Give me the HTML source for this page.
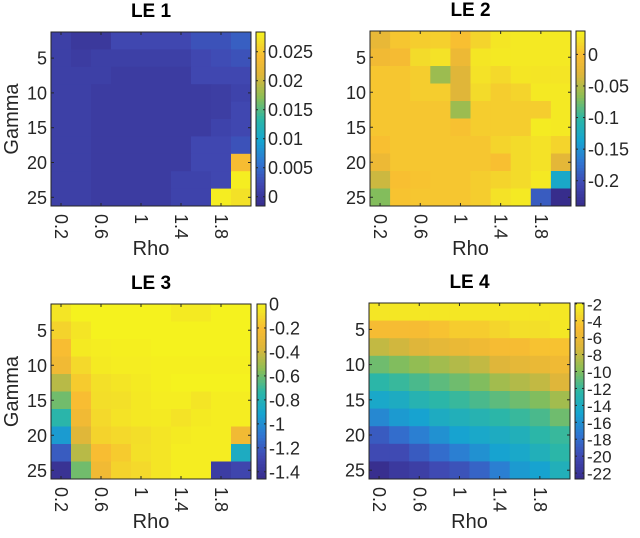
<!DOCTYPE html>
<html><head><meta charset="utf-8"><style>
html,body{margin:0;padding:0;background:#fff}
svg{display:block;font-family:"Liberation Sans",Arial,sans-serif}
</style></head><body>
<svg id="fig" width="640" height="538" viewBox="0 0 640 538"></svg>
<script>
const rhoCategories = [0.2,0.4,0.6,0.8,1.0,1.2,1.4,1.6,1.8,2.0];
const gammaCategories = [2.5,5,7.5,10,12.5,15,17.5,20,22.5,25];
const xTickLabels = ["0.2","0.6","1","1.4","1.8"];
const xTickValues = [0.2,0.6,1.0,1.4,1.8];
const yTickValues = [5,10,15,20,25];
const le1Values = [
[0.001,0,0,0.002,0.002,0.002,0.002,0.003,0.003,0.004],
[0.001,0.0005,0.001,0.001,0.001,0.001,0.001,0.002,0.0025,0.003],
[0.001,0.001,0.001,0.0005,0.0005,0.0005,0.0005,0.002,0.002,0.002],
[0.001,0.001,0.0005,0.0005,0.0005,0.0005,0.0005,0.0005,0.0007,0.0015],
[0.001,0.001,0.0005,0.0005,0.0005,0.0005,0.0005,0.0005,0.0007,0.002],
[0.001,0.001,0.0005,0.0005,0.0005,0.0005,0.0005,0.0005,0.0015,0.002],
[0.001,0.001,0.0005,0.0005,0.0005,0.0005,0.0005,0.002,0.002,0.003],
[0.001,0.001,0.0005,0.0005,0.0005,0.0005,0.0005,0.002,0.002,0.024],
[0.001,0.001,0.0005,0.0005,0.0005,0.0005,0.0015,0.0015,0.002,0.028],
[0.001,0.001,0.0005,0.0005,0.0005,0.0005,0.0015,0.0015,0.028,0.027]];
const le2Values = [
[-0.02,0.005,0.01,0.012,0.0,0.015,0.028,0.03,0.03,0.03],
[-0.01,-0.005,0.02,0.025,-0.015,0.028,0.03,0.03,0.03,0.03],
[0.005,0.005,0.01,-0.06,-0.03,0.025,0.018,0.028,0.027,0.027],
[0.005,0.005,0.01,0.01,-0.03,0.02,0.01,0.015,0.03,0.03],
[0.005,0.005,0.005,0.005,-0.06,0.01,0.01,0.01,0.01,0.03],
[0.005,0.005,0.005,0.005,0.002,0.01,0.01,0.01,0.032,0.03],
[0.0,0.005,0.005,0.005,0.005,0.005,0.015,0.02,0.025,0.015],
[-0.015,0.005,0.005,0.005,0.005,0.005,0.0,0.02,0.025,-0.025],
[-0.04,0.0,0.003,0.005,0.005,0.01,0.015,0.02,0.03,-0.13],
[-0.07,0.003,0.005,0.005,0.005,0.01,0.025,0.03,-0.19,-0.24]];
const le3Values = [
[-0.05,0,0,0,0,0,-0.03,-0.03,0,0],
[-0.12,-0.05,0,0,0,0,0,0,0,0],
[-0.2,-0.03,-0.02,-0.01,-0.01,0,0,0,0,0],
[-0.25,-0.1,-0.03,-0.02,-0.02,-0.01,-0.01,-0.01,-0.01,-0.01],
[-0.45,-0.15,-0.07,-0.05,-0.03,-0.01,0,0,0,0],
[-0.6,-0.2,-0.08,-0.07,-0.04,-0.02,-0.02,-0.05,-0.02,-0.02],
[-0.75,-0.25,-0.1,-0.06,-0.04,-0.03,-0.06,-0.03,-0.02,-0.02],
[-0.95,-0.35,-0.12,-0.1,-0.08,-0.05,-0.03,-0.02,-0.02,-0.25],
[-1.2,-0.45,-0.2,-0.15,-0.07,-0.05,-0.02,-0.02,-0.02,-0.85],
[-1.42,-0.6,-0.25,-0.12,-0.1,-0.05,-0.02,-0.02,-1.35,-1.3]];
const le4Values = [
[-2.6,-2.5,-2.5,-2.5,-2.5,-2.5,-2.6,-2.5,-2.5,-2.5],
[-5,-5,-5,-4.5,-4,-4,-3.5,-3,-3,-2.5],
[-8,-7.5,-7,-6.5,-6,-5.5,-5,-5,-4.5,-4.5],
[-10.5,-10,-9.5,-9,-8.5,-8,-7,-6.5,-6,-5.5],
[-12.5,-12,-11.5,-11,-10.5,-10,-9,-8.5,-8,-7],
[-14.5,-14,-13,-12.5,-12,-11.5,-11,-10.5,-10,-9],
[-16.5,-15.5,-15,-14,-13.5,-13,-12.5,-12,-11.5,-10.5],
[-19,-18,-17,-16,-15,-14.5,-14,-13.5,-12.5,-12],
[-20,-20,-19,-18,-17,-16,-15,-14.5,-13.5,-12.5],
[-22.5,-21.5,-21,-20,-19.5,-18.5,-17,-15.5,-15,-13.5]];
const le1Ticks = [0,0.005,0.01,0.015,0.02,0.025];
const le1TickLabels = ["0","0.005","0.01","0.015","0.02","0.025"];
const le2Ticks = [0,-0.05,-0.1,-0.15,-0.2];
const le2TickLabels = ["0","-0.05","-0.1","-0.15","-0.2"];
const le3Ticks = [0,-0.2,-0.4,-0.6,-0.8,-1,-1.2,-1.4];
const le3TickLabels = ["0","-0.2","-0.4","-0.6","-0.8","-1","-1.2","-1.4"];
const le4Ticks = [-2,-4,-6,-8,-10,-12,-14,-16,-18,-20,-22];
const le4TickLabels = ["-2","-4","-6","-8","-10","-12","-14","-16","-18","-20","-22"];

const NS="http://www.w3.org/2000/svg";
const svg=document.getElementById('fig');
function mk(tag,attrs,parent,txt){const e=document.createElementNS(NS,tag);for(const k in attrs)e.setAttribute(k,attrs[k]);if(txt!==undefined)e.textContent=txt;(parent||svg).appendChild(e);return e;}
const stops=[[0,55,45,140],[0.125,64,72,178],[0.25,48,118,210],[0.375,22,165,208],[0.5,45,183,165],[0.625,140,190,85],[0.75,222,182,58],[0.86,248,188,50],[0.94,243,220,42],[1,245,242,30]];
function parula(t){t=Math.max(0,Math.min(1,t));for(let i=1;i<stops.length;i++){if(t<=stops[i][0]){const a=stops[i-1],b=stops[i];const f=(t-a[0])/(b[0]-a[0]);return `rgb(${[1,2,3].map(k=>Math.round(a[k]+f*(b[k]-a[k]))).join(',')})`;}}return 'rgb(245,242,30)';}

function panel(o){
  const g=mk('g',{},svg);
  
  
  const pw=o.x1-o.x0, ph=o.y1-o.y0;
  const xs=v=>o.x0+(v-0.1)/2.0*pw;
  const ys=v=>o.y0+(v-1.25)/25*ph;
  const cw=pw/rhoCategories.length, chh=ph/gammaCategories.length;
  o.data.forEach((row,i)=>row.forEach((v,j)=>{
    const r=mk('rect',{x:xs(rhoCategories[j])-cw/2,y:ys(gammaCategories[i])-chh/2,width:cw+0.4,height:chh+0.4,fill:parula((v-o.vmin)/(o.vmax-o.vmin))},g);
    
    
  }));
  mk('rect',{x:o.x0,y:o.y0,width:pw,height:ph,fill:'none',stroke:'#262626','stroke-width':1},g);
  xTickValues.forEach((v,k)=>{const x=xs(v);
    mk('line',{x1:x,x2:x,y1:o.y1,y2:o.y1-3,stroke:'#262626'},g);
    mk('line',{x1:x,x2:x,y1:o.y0,y2:o.y0+3,stroke:'#262626'},g);
    const t=mk('text',{x:0,y:0,transform:`translate(${x-6},${o.y1+8}) rotate(90)`,'font-size':18,fill:'#262626'},g,xTickLabels[k]);
    
    
  });
  yTickValues.forEach(v=>{const y=ys(v);
    mk('line',{x1:o.x0,x2:o.x0+3,y1:y,y2:y,stroke:'#262626'},g);
    mk('line',{x1:o.x1,x2:o.x1-3,y1:y,y2:y,stroke:'#262626'},g);
    const t=mk('text',{x:o.x0-4,y:y+6.5,'text-anchor':'end','font-size':18,fill:'#262626'},g,String(v));
    
    
  });
  const ti=mk('text',{x:(o.x0+o.x1)/2,y:o.y0-15,'text-anchor':'middle','font-size':19,'font-weight':'bold',fill:'#000'},g,o.title);
  
  
  const xl=mk('text',{x:(o.x0+o.x1)/2,y:o.y1+49,'text-anchor':'middle','font-size':20,fill:'#262626'},g,'Rho');
  
  
  if(o.gamma){const yl=mk('text',{x:0,y:0,transform:`translate(${o.x0-33},${(o.y0+o.y1)/2}) rotate(-90)`,'text-anchor':'middle','font-size':20,fill:'#262626'},g,'Gamma');
    
    }
  const cb=mk('g',{},g);
  
  
  const N=60;
  for(let k=0;k<N;k++){mk('rect',{x:o.cx,y:o.y0+k*ph/N,width:9,height:ph/N+0.5,fill:parula(1-(k+0.5)/N)},cb);}
  mk('rect',{x:o.cx,y:o.y0,width:9,height:ph,fill:'none',stroke:'#262626'},cb);
  const cs=v=>o.y0+(o.vmax-v)/(o.vmax-o.vmin)*ph;
  o.ticks.forEach((v,k)=>{const y=cs(v);
    mk('line',{x1:o.cx,x2:o.cx+2,y1:y,y2:y,stroke:'#262626'},cb);
    mk('line',{x1:o.cx+9,x2:o.cx+7,y1:y,y2:y,stroke:'#262626'},cb);
    const t=mk('text',{x:o.cx+12,y:y+6.5,'font-size':o.cfs||18,fill:'#262626'},cb,o.tickLabels[k]);
    
    
  });
}
panel({name:'panel-le1',title:'LE 1',data:le1Values,x0:51,x1:251,y0:32,y1:206,cx:256,vmin:-0.0016,vmax:0.0284,ticks:le1Ticks,tickLabels:le1TickLabels,gamma:true});
panel({name:'panel-le2',title:'LE 2',data:le2Values,x0:370,x1:571,y0:31,y1:206,cx:576,vmin:-0.24,vmax:0.037,ticks:le2Ticks,tickLabels:le2TickLabels});
panel({name:'panel-le3',title:'LE 3',data:le3Values,x0:51,x1:251,y0:304,y1:479,cx:257,vmin:-1.46,vmax:0.0,ticks:le3Ticks,tickLabels:le3TickLabels,gamma:true});
panel({name:'panel-le4',title:'LE 4',data:le4Values,x0:369,x1:570,y0:303,y1:479,cx:575,vmin:-22.7,vmax:-1.9,ticks:le4Ticks,tickLabels:le4TickLabels,cfs:17});
</script>
</body></html>
